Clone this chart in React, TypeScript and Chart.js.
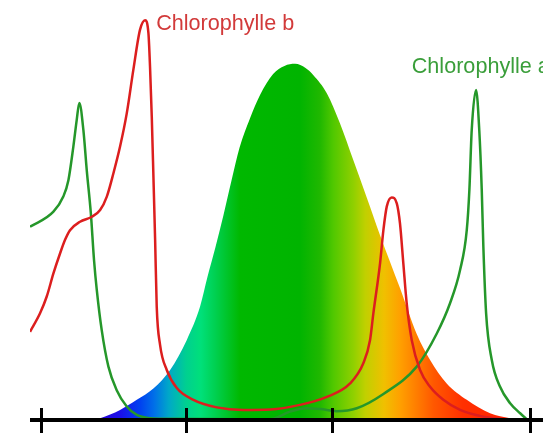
import React, { useEffect, useRef } from "react";
import { Chart, registerables } from "chart.js";

Chart.register(...registerables);

// Wavelength (nm) and absorbance (arbitrary units, 0–100)
const chlAWavelengths = [392.6, 408.7, 415.5, 419.0, 422.4, 424.7, 426.5, 429.3, 431.6, 434.4, 436.6, 438.5, 441.9, 446.5, 452.2, 459.1, 466.0, 475.1, 482.0, 557.6, 571.3, 582.8, 592.0, 603.4, 617.2, 635.5, 658.4, 672.2, 681.3, 688.2, 692.8, 694.6, 696.2, 699.2, 701.4, 703.1, 704.2, 706.1, 710.0, 715.7, 722.6, 729.5, 734.0];
const chlAValues = [46.0, 49.6, 53.2, 57.1, 65.1, 71.4, 75.5, 69.0, 59.5, 49.3, 38.1, 31.0, 21.4, 12.7, 7.1, 3.2, 1.2, 0.4, 0.3, 0.2, 2.0, 2.8, 2.6, 2.1, 2.8, 6.2, 12.7, 20.6, 27.8, 35.7, 45.2, 54.8, 69.0, 78.6, 69.0, 54.8, 41.3, 25.4, 14.3, 7.9, 4.0, 1.6, 0.2];

const chlBWavelengths = [392.6, 399.5, 404.1, 408.7, 413.3, 416.7, 420.1, 427.0, 435.1, 440.8, 445.4, 449.9, 454.5, 459.1, 463.6, 468.2, 471.7, 474.0, 475.1, 476.3, 477.5, 478.6, 479.7, 482.0, 486.6, 493.5, 504.9, 521.0, 539.2, 557.6, 578.2, 596.6, 612.6, 621.7, 626.3, 628.6, 633.2, 635.5, 637.8, 641.2, 644.7, 646.9, 649.2, 651.5, 655.0, 660.7, 667.6, 676.7, 688.2, 704.2, 717.9, 726.0];
const chlBValues = [21.0, 25.4, 29.4, 34.9, 39.7, 42.9, 45.2, 47.2, 48.4, 50.0, 53.2, 58.7, 65.1, 73.0, 83.3, 92.9, 95.2, 92.1, 84.1, 72.2, 57.1, 42.9, 27.0, 17.9, 11.9, 7.6, 4.8, 3.0, 2.4, 2.5, 3.6, 5.5, 8.7, 13.5, 19.0, 25.4, 37.3, 45.2, 50.8, 53.0, 51.6, 46.8, 37.3, 27.8, 19.0, 11.9, 7.9, 4.8, 2.4, 0.8, 0.2, 0];

const spectrumWavelengths = [437.3, 440.8, 454.5, 466.0, 477.4, 488.9, 500.3, 509.5, 514.6, 520.1, 525.6, 531.1, 536.6, 543.9, 550.7, 559.7, 567.5, 574.8, 582.0, 587.4, 596.6, 605.7, 614.8, 624.1, 633.2, 646.9, 658.4, 667.6, 679.0, 692.8, 708.8, 722.6, 729.5];
const spectrumValues = [0, 0.4, 2.4, 4.8, 7.5, 11.9, 19.0, 27.0, 34.1, 41.2, 48.8, 57.0, 64.8, 71.9, 77.4, 82.4, 84.3, 84.8, 83.8, 82.1, 77.8, 70.6, 61.9, 52.9, 44.0, 31.4, 20.5, 14.3, 8.7, 4.8, 1.6, 0.4, 0];

const gradientWavelengths = [437, 455, 468, 478, 488, 500, 510, 520, 537, 578, 592, 601, 615, 623, 636, 647, 660, 670, 690, 725];
const gradientColors = ["#2a00d8", "#1a10e8", "#0040f0", "#0070e8", "#00a8c8", "#00d090", "#00e07a", "#00d050", "#00b800", "#00b400", "#20b800", "#50c800", "#90d000", "#c0d000", "#f0c000", "#ffa000", "#ff7800", "#ff5800", "#ff3000", "#ff2000"];

const tickValues = [400, 500, 600, 736];
const X_MIN = 392.6;
const X_MAX = 745.2;

const labelB = { text: "Chlorophylle b", x: 479.3, y: 92.9 };
const labelA = { text: "Chlorophylle a", x: 655.0, y: 82.7 };

const toPoints = (xs: number[], ys: number[]) => xs.map((x, i) => ({ x, y: ys[i] }));

export default function App() {
  const ref = useRef<HTMLCanvasElement | null>(null);

  useEffect(() => {
    document.body.style.margin = "0";
    const canvas = ref.current;
    if (!canvas) return;

    const axisPlugin = {
      id: "axisPlugin",
      afterDatasetsDraw(chart: any) {
        const { ctx, chartArea, scales } = chart;
        const xs = scales.x;
        const ys = scales.y;
        const y0 = ys.getPixelForValue(0);
        ctx.save();
        ctx.strokeStyle = "#000";
        ctx.lineWidth = 4;
        ctx.beginPath();
        ctx.moveTo(chartArea.left, y0);
        ctx.lineTo(chartArea.right, y0);
        ctx.stroke();
        ctx.lineWidth = 3;
        tickValues.forEach((v) => {
          const px = Math.round(xs.getPixelForValue(v)) + 0.5;
          ctx.beginPath();
          ctx.moveTo(px, y0 - 12);
          ctx.lineTo(px, y0 + 14);
          ctx.stroke();
        });
        ctx.font = '21.6px "Liberation Sans", Arial, sans-serif';
        ctx.textBaseline = "alphabetic";
        ctx.fillStyle = "#d23a3a";
        ctx.fillText(labelB.text, xs.getPixelForValue(labelB.x), ys.getPixelForValue(labelB.y));
        ctx.fillStyle = "#3a9e3a";
        ctx.fillText(labelA.text, xs.getPixelForValue(labelA.x), ys.getPixelForValue(labelA.y));
        ctx.restore();
      },
    };

    const spectrumFill = (c: any) => {
      const chart = c.chart;
      if (!chart.chartArea) return "transparent";
      const xs = chart.scales.x;
      const x0 = xs.getPixelForValue(gradientWavelengths[0]);
      const x1 = xs.getPixelForValue(gradientWavelengths[gradientWavelengths.length - 1]);
      const g = chart.ctx.createLinearGradient(x0, 0, x1, 0);
      const span = gradientWavelengths[gradientWavelengths.length - 1] - gradientWavelengths[0];
      gradientWavelengths.forEach((w, i) => {
        g.addColorStop((w - gradientWavelengths[0]) / span, gradientColors[i]);
      });
      return g;
    };

    const chart = new Chart(canvas, {
      type: "line",
      data: {
        datasets: [
          {
            label: "Chlorophylle b",
            data: toPoints(chlBWavelengths, chlBValues),
            borderColor: "#dc1e1e",
            borderWidth: 2.5,
            pointRadius: 0,
            fill: false,
            cubicInterpolationMode: "monotone",
            order: 1,
          },
          {
            label: "Chlorophylle a",
            data: toPoints(chlAWavelengths, chlAValues),
            borderColor: "#25972a",
            borderWidth: 2.5,
            pointRadius: 0,
            fill: false,
            cubicInterpolationMode: "monotone",
            order: 2,
          },
          {
            label: "Spectre",
            data: toPoints(spectrumWavelengths, spectrumValues),
            borderWidth: 0,
            borderColor: "transparent",
            backgroundColor: spectrumFill,
            pointRadius: 0,
            fill: "origin",
            cubicInterpolationMode: "monotone",
            order: 10,
          },
        ],
      },
      options: {
        animation: false,
        responsive: true,
        maintainAspectRatio: false,
        layout: { padding: { left: 30, right: 0, top: 0, bottom: 13 } },
        plugins: { legend: { display: false }, tooltip: { enabled: false }, title: { display: false } },
        scales: {
          x: { type: "linear", min: X_MIN, max: X_MAX, display: false },
          y: { min: 0, max: 100, display: false },
        },
      },
      plugins: [axisPlugin],
    });

    return () => chart.destroy();
  }, []);

  return (
    <div style={{ width: 543, height: 433, position: "relative" }}>
      <canvas ref={ref} />
    </div>
  );
}
